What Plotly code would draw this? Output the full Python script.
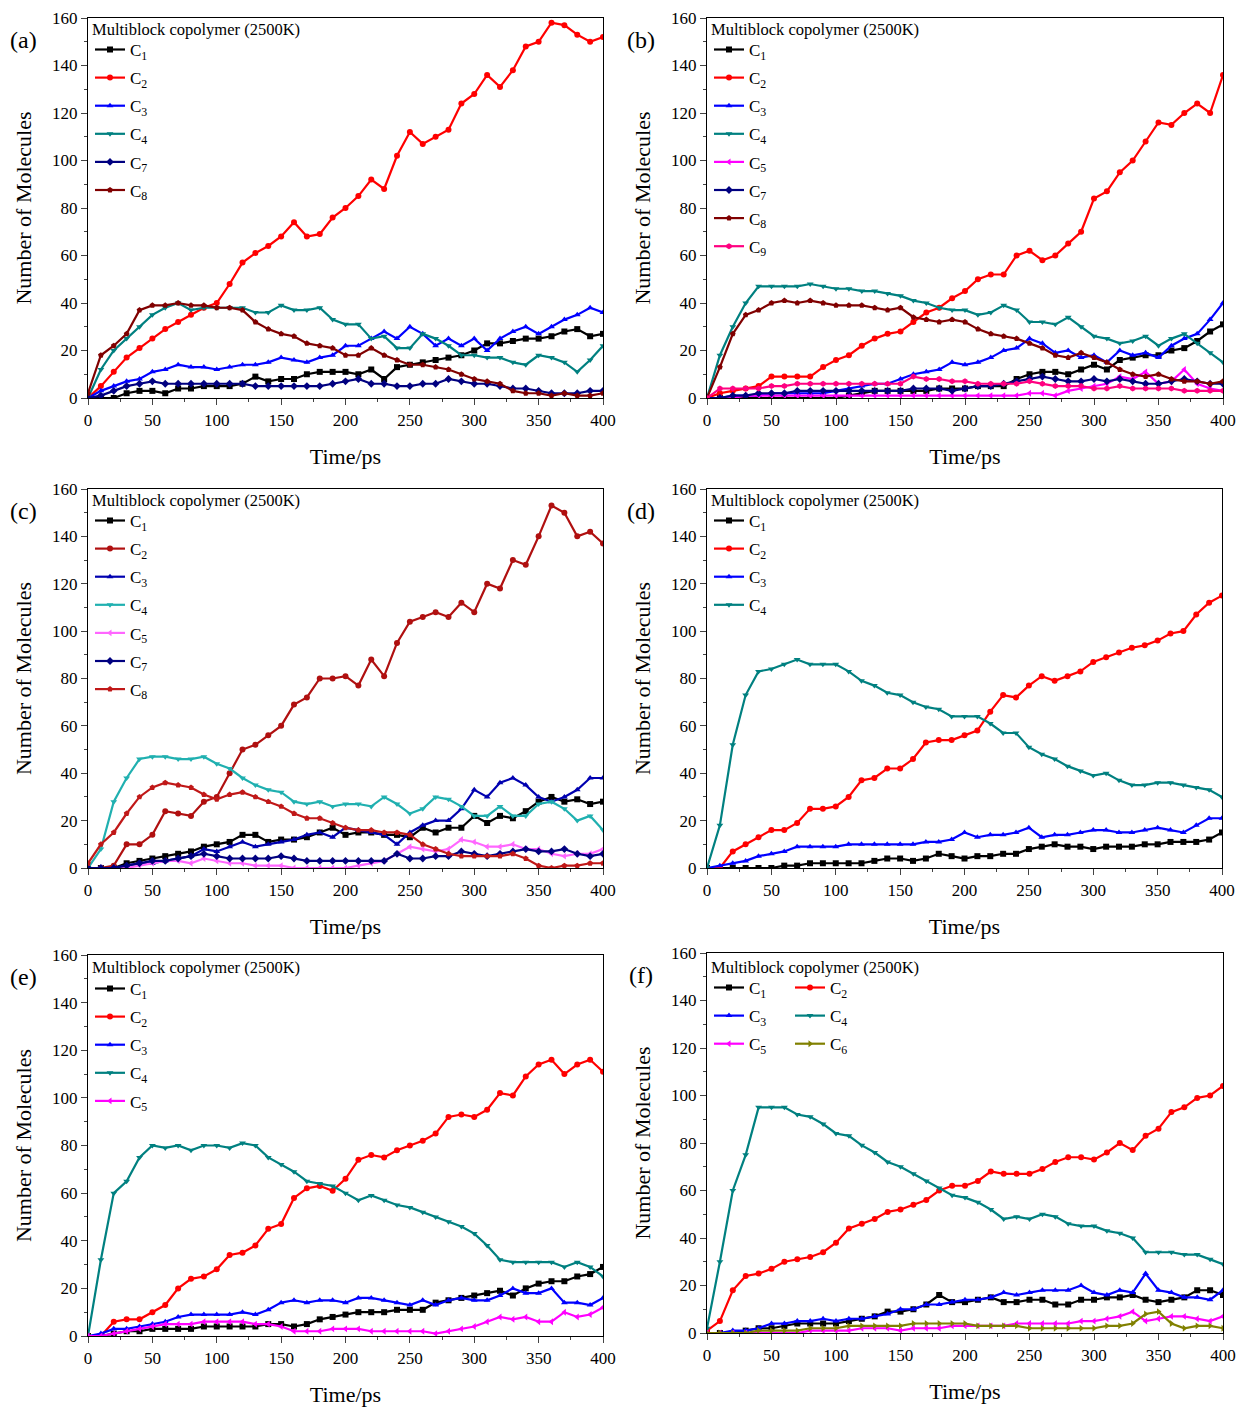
import plotly.graph_objects as go

# Simulation time (ps), sampled every 10 ps
TIME = list(range(0, 401, 10))

# (a) species counts
A_C1 = [0,0,0,2,3,3,2,4,4,5,5,5,6,9,7,8,8,10,11,11,11,10,12,8,13,14,15,16,17,18,20,23,23,24,25,25,26,28,29,26,27]
A_C2 = [0,5,11,17,21,25,29,32,35,38,40,48,57,61,64,68,74,68,69,76,80,85,92,88,102,112,107,110,113,124,128,136,131,138,148,150,158,157,153,150,152]
A_C3 = [0,3,5,7,8,11,12,14,13,13,12,13,14,14,15,17,16,15,17,18,22,22,25,28,25,30,27,22,25,22,25,20,25,28,30,27,30,33,35,38,36]
A_C4 = [0,12,20,25,30,35,38,40,37,38,38,38,38,36,36,39,37,37,38,33,31,31,25,26,21,21,27,25,22,18,18,17,17,15,14,18,17,15,11,16,22]
A_C7 = [0,1,3,5,6,7,6,6,6,6,6,6,6,5,5,5,5,5,5,6,7,8,6,6,5,5,6,6,8,7,6,6,5,4,4,3,2,2,2,3,3]
A_C8 = [2,18,22,27,37,39,39,40,39,39,38,38,37,32,29,27,26,23,22,21,18,18,21,18,16,14,14,13,12,10,8,7,6,3,2,2,1,2,1,1,2]

# (b) species counts
B_C1 = [0,0,0,0,0,0,0,0,0,0,0,1,2,3,3,3,3,3,4,4,4,5,5,5,8,10,11,11,10,12,14,12,16,17,18,18,20,21,24,28,31]
B_C2 = [0,2,3,4,5,9,9,9,9,13,16,18,22,25,27,28,32,36,38,42,45,50,52,52,60,62,58,60,65,70,84,87,95,100,108,116,115,120,124,120,136]
B_C3 = [0,0,1,1,1,2,2,2,2,2,3,4,5,6,6,8,10,11,12,15,14,15,17,20,21,25,23,19,20,17,18,15,20,18,19,17,22,25,27,33,40]
B_C4 = [0,18,30,40,47,47,47,47,48,47,46,46,45,45,44,43,41,40,38,37,37,35,36,39,37,32,32,31,34,30,26,25,23,24,26,22,25,27,23,19,15]
B_C5 = [0,0,0,1,1,1,1,1,1,1,1,1,1,1,1,1,1,1,1,1,1,1,1,1,1,2,2,1,3,4,5,6,9,8,11,6,7,12,6,4,3]
B_C7 = [0,0,1,1,2,2,2,3,3,3,3,3,3,3,3,3,4,4,4,3,4,5,5,6,7,8,9,8,7,7,8,7,8,7,6,6,7,8,7,6,6]
B_C8 = [0,13,27,35,37,40,41,40,41,40,39,39,39,38,37,38,34,33,32,33,32,29,27,26,25,23,21,18,17,19,17,15,12,10,9,10,8,7,7,6,7]
B_C9 = [0,4,4,4,4,5,5,6,6,6,6,6,6,6,6,6,9,8,8,7,7,6,6,6,6,7,6,5,5,5,4,4,5,4,4,4,4,3,3,3,3]

# (c) species counts
C_C1 = [0,0,0,2,3,4,5,6,7,9,10,11,14,14,11,12,12,13,15,17,14,15,15,14,14,13,17,15,17,17,22,19,22,21,24,28,30,28,29,27,28]
C_C2 = [0,0,1,10,10,14,24,23,22,28,30,40,50,52,56,60,69,72,80,80,81,77,88,81,95,104,106,108,106,112,108,120,118,130,128,140,153,150,140,142,137]
C_C3 = [0,0,0,1,2,2,3,4,5,8,7,9,11,9,10,11,12,14,15,13,17,16,15,14,10,15,18,20,20,25,33,30,36,38,35,30,28,30,33,38,38]
C_C4 = [0,8,28,38,46,47,47,46,46,47,44,42,38,35,33,32,28,27,28,26,27,27,26,30,27,23,25,30,29,26,22,22,26,22,22,27,28,25,20,22,16]
C_C5 = [0,0,0,0,1,2,3,3,2,4,3,2,2,1,1,1,0,0,0,0,0,1,2,3,6,9,8,7,8,12,11,9,9,10,8,8,6,5,6,6,8]
C_C7 = [0,0,0,1,2,3,3,4,5,6,5,4,4,4,4,5,4,3,3,3,3,3,3,3,6,4,4,5,5,7,6,5,6,7,8,7,7,8,6,5,6]
C_C8 = [2,10,15,23,30,34,36,35,34,31,29,31,32,30,28,26,23,21,21,19,17,16,16,15,15,14,10,8,6,5,5,5,5,6,4,1,0,1,1,2,2]

# (d) species counts
D_C1 = [0,0,0,0,0,0,1,1,2,2,2,2,2,3,4,4,3,4,6,5,4,5,5,6,6,8,9,10,9,9,8,9,9,9,10,10,11,11,11,12,15]
D_C2 = [0,0,7,10,13,16,16,19,25,25,26,30,37,38,42,42,46,53,54,54,56,58,66,73,72,77,81,79,81,83,87,89,91,93,94,96,99,100,107,112,115]
D_C3 = [0,1,2,3,5,6,7,9,9,9,9,10,10,10,10,10,10,11,11,12,15,13,14,14,15,17,13,14,14,15,16,16,15,15,16,17,16,15,18,21,21]
D_C4 = [0,18,52,73,83,84,86,88,86,86,86,83,79,77,74,73,70,68,67,64,64,64,61,57,57,51,48,46,43,41,39,40,37,35,35,36,36,35,34,33,30]

# (e) species counts
E_C1 = [0,0,1,2,2,3,3,3,3,4,4,4,4,4,5,5,4,5,7,8,9,10,10,10,11,11,11,14,15,16,17,18,19,17,20,22,23,23,25,26,29]
E_C2 = [0,0,6,7,7,10,13,20,24,25,28,34,35,38,45,47,58,62,63,61,66,74,76,75,78,80,82,85,92,93,92,95,102,101,109,114,116,110,114,116,111]
E_C3 = [0,1,3,3,4,5,6,8,9,9,9,9,10,9,11,14,15,14,15,15,14,16,16,15,14,13,15,13,15,16,15,15,17,20,18,18,20,14,14,13,16]
E_C4 = [0,32,60,65,75,80,79,80,78,80,80,79,81,80,75,72,69,65,64,63,60,57,59,57,55,54,52,50,48,46,43,38,32,31,31,31,31,29,31,29,25]
E_C5 = [0,0,1,2,3,4,5,5,5,6,6,6,6,5,5,4,2,2,2,3,3,3,2,2,2,2,2,1,2,3,4,6,8,7,8,6,6,10,8,9,12]

# (f) species counts
F_C1 = [0,0,0,1,2,2,3,4,4,4,4,5,6,7,9,9,10,12,16,13,13,14,15,13,13,14,14,12,12,14,14,15,15,16,14,13,14,15,18,18,16]
F_C2 = [1,5,18,24,25,27,30,31,32,34,38,44,46,48,51,52,54,56,60,62,62,64,68,67,67,67,69,72,74,74,73,76,80,77,83,86,93,95,99,100,104]
F_C3 = [0,0,1,1,2,4,4,5,5,6,5,6,6,7,8,10,10,12,12,13,14,14,15,17,16,17,18,18,18,20,17,16,18,17,25,18,17,15,15,14,18]
F_C4 = [2,30,60,75,95,95,95,92,91,88,84,83,79,76,72,70,67,64,61,58,57,55,52,48,49,48,50,49,46,45,45,43,42,40,34,34,34,33,33,31,29]
F_C5 = [0,0,0,0,0,0,0,0,1,1,1,1,2,2,2,1,2,2,2,3,3,3,3,3,4,4,4,4,4,5,5,6,7,9,5,6,7,7,6,5,7]
F_C6 = [0,0,0,0,1,1,1,1,2,2,2,3,3,3,3,3,4,4,4,4,4,3,3,3,3,2,2,2,2,2,2,3,3,4,8,9,4,2,3,3,2]

PANEL_LABELS = ["(a)", "(b)", "(c)", "(d)", "(e)", "(f)"]
BOX_TITLE = "Multiblock copolymer (2500K)"
X_TICKS = [0, 50, 100, 150, 200, 250, 300, 350, 400]
Y_TICKS = [0, 20, 40, 60, 80, 100, 120, 140, 160]

# default colour / marker per species
STYLE = {
    "C1": ("#000000", "square"),
    "C2": ("#ff0000", "circle"),
    "C3": ("#0000ff", "triangle-up"),
    "C4": ("#008080", "triangle-down"),
    "C5": ("#ff00ff", "triangle-left"),
    "C6": ("#808000", "triangle-right"),
    "C7": ("#000080", "diamond"),
    "C8": ("#800000", "pentagon"),
    "C9": ("#ff0080", "hexagon"),
}
# panel (c) uses its own palette
STYLE_C = {
    "C2": ("#b01010", "circle"),
    "C3": ("#0000b0", "triangle-up"),
    "C4": ("#20b0b0", "triangle-down"),
    "C5": ("#ff66ff", "triangle-left"),
    "C8": ("#c01818", "pentagon"),
}

W, H = 1239, 1407
SERIF = "Liberation Serif"

# pixel boxes: (left, right, top, bottom), legend first-row centre, legend columns
PANELS = [
    dict(box=(88, 603, 18, 398), series=[("C1", A_C1), ("C2", A_C2), ("C3", A_C3), ("C4", A_C4), ("C7", A_C7), ("C8", A_C8)],
         palette={}, title_y=30, leg_y=50, columns=None),
    dict(box=(707, 1223, 18, 398), series=[("C1", B_C1), ("C2", B_C2), ("C3", B_C3), ("C4", B_C4), ("C5", B_C5), ("C7", B_C7), ("C8", B_C8), ("C9", B_C9)],
         palette={}, title_y=30, leg_y=50, columns=None),
    dict(box=(88, 603, 489, 868), series=[("C1", C_C1), ("C2", C_C2), ("C3", C_C3), ("C4", C_C4), ("C5", C_C5), ("C7", C_C7), ("C8", C_C8)],
         palette=STYLE_C, title_y=500, leg_y=521, columns=None),
    dict(box=(707, 1222, 489, 868), series=[("C1", D_C1), ("C2", D_C2), ("C3", D_C3), ("C4", D_C4)],
         palette={}, title_y=500, leg_y=521, columns=None),
    dict(box=(88, 603, 955, 1336), series=[("C1", E_C1), ("C2", E_C2), ("C3", E_C3), ("C4", E_C4), ("C5", E_C5)],
         palette={}, title_y=968, leg_y=989, columns=None),
    dict(box=(707, 1223, 953, 1333), series=[("C1", F_C1), ("C2", F_C2), ("C3", F_C3), ("C4", F_C4), ("C5", F_C5), ("C6", F_C6)],
         palette={}, title_y=967, leg_y=988, columns=[["C1", "C3", "C5"], ["C2", "C4", "C6"]]),
]

LEG_FONT = 17
LEG_GAP = 3
ROW_H = LEG_FONT * 1.3 + 3 + LEG_GAP

fig = go.Figure()
layout = dict(
    width=W, height=H, margin=dict(l=0, r=0, t=0, b=0, autoexpand=False),
    paper_bgcolor="white", plot_bgcolor="white",
    font=dict(family=SERIF, color="black"),
    showlegend=True,
)
annotations = []
legend_count = 0

for i, p in enumerate(PANELS):
    n = i + 1
    sfx = "" if n == 1 else str(n)
    left, right, top, bottom = p["box"]
    layout["xaxis" + sfx] = dict(
        domain=[left / W, right / W], anchor="y" + sfx, range=[0, 400], automargin=False,
        tickvals=X_TICKS, ticks="outside", ticklen=6, tickwidth=1,
        minor=dict(dtick=25, tick0=0, ticks="outside", ticklen=3, tickwidth=1),
        showline=True, mirror=True, linecolor="black", linewidth=1.2,
        showgrid=False, zeroline=False,
        tickfont=dict(family=SERIF, size=17, color="black"),
        title=dict(text="Time/ps", font=dict(family=SERIF, size=22, color="black"), standoff=20),
    )
    layout["yaxis" + sfx] = dict(
        domain=[1 - bottom / H, 1 - top / H], anchor="x" + sfx, range=[0, 160], automargin=False,
        tickvals=Y_TICKS, ticks="outside", ticklen=6, tickwidth=1,
        minor=dict(dtick=10, tick0=0, ticks="outside", ticklen=3, tickwidth=1),
        showline=True, mirror=True, linecolor="black", linewidth=1.2,
        showgrid=False, zeroline=False,
        tickfont=dict(family=SERIF, size=17, color="black"),
        title=dict(text="Number of Molecules", font=dict(family=SERIF, size=22, color="black"), standoff=14),
    )

    columns = p["columns"] or [[name for name, _ in p["series"]]]
    col_x = [left + 2, left + 83]
    legend_of = {}
    for c, names in enumerate(columns):
        legend_count += 1
        lname = "legend" if legend_count == 1 else f"legend{legend_count}"
        for nm in names:
            legend_of[nm] = lname
        layout[lname] = dict(
            x=col_x[c] / W, xanchor="left",
            y=1 - (p["leg_y"] - ROW_H / 2 - 4) / H, yanchor="top",
            bgcolor="rgba(0,0,0,0)", borderwidth=0,
            font=dict(family=SERIF, size=LEG_FONT, color="black"),
            tracegroupgap=LEG_GAP, itemwidth=30,
        )

    for name, values in p["series"]:
        color, symbol = p["palette"].get(name, STYLE[name])
        fig.add_trace(go.Scatter(
            x=TIME, y=values, mode="lines+markers",
            name=f"C<sub>{name[1:]}</sub>",
            line=dict(color=color, width=2.2),
            marker=dict(color=color, symbol=symbol, size=6),
            xaxis="x" + sfx, yaxis="y" + sfx,
            legend=legend_of[name], legendgroup=f"{n}-{name}",
        ))

    label_x = 23 if left < 300 else 641
    annotations.append(dict(
        text=PANEL_LABELS[i], xref="paper", yref="paper",
        x=label_x / W, y=1 - (top + 22) / H, xanchor="center", yanchor="middle",
        showarrow=False, font=dict(family=SERIF, size=24, color="black"),
    ))
    annotations.append(dict(
        text=BOX_TITLE, xref="paper", yref="paper",
        x=(left + 2) / W, y=1 - p["title_y"] / H, xanchor="left", yanchor="middle",
        showarrow=False, font=dict(family=SERIF, size=16.5, color="black"),
    ))

layout["annotations"] = annotations
fig.update_layout(**layout)
fig.write_html("out.html")
